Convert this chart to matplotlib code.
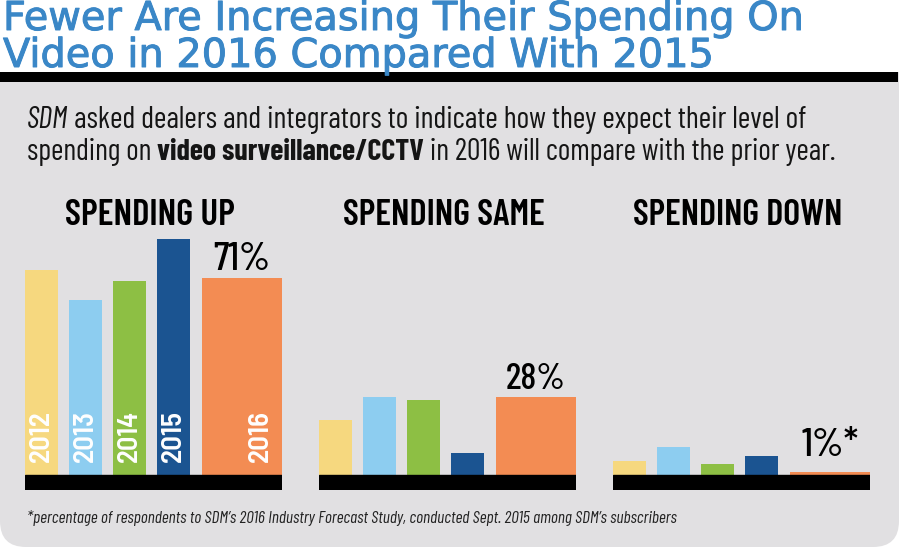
import matplotlib
matplotlib.use("Agg")
import matplotlib.pyplot as plt
import matplotlib.patheffects as pe
from matplotlib.patches import FancyBboxPatch, Rectangle

# data (% of respondents)
years = ["2012", "2013", "2014", "2015", "2016"]
spending_up = [74, 63, 70, 85, 71]
spending_same = [20, 28, 27, 8, 28]
spending_down = [5, 10, 4, 7, 1]
group_titles = ["SPENDING UP", "SPENDING SAME", "SPENDING DOWN"]
value_labels = ["71%", "28%", "1%*"]

colors = ["#f6d87f", "#8dcdf0", "#8dbf44", "#1b5491", "#f38c53"]
panel_gray = "#e1e0e2"
title_blue = "#3a87c7"

# condensed gothic look, falls back to DejaVu Sans Condensed
narrow = {"family": ["Barlow Condensed", "Roboto Condensed", "DejaVu Sans"],
          "fontstretch": "condensed"}
semi = {"family": ["Barlow Semi Condensed", "DejaVu Sans"], "fontstretch": "semi-condensed"}

W, H = 900, 550
fig = plt.figure(figsize=(W / 100, H / 100), dpi=100)
fig.patch.set_facecolor("white")
fig.canvas.draw()
r = fig.canvas.get_renderer()


def fit(t, target, along="width"):
    bb = t.get_window_extent(renderer=r)
    cur = bb.width if along == "width" else bb.height
    t.set_fontsize(t.get_fontsize() * target / cur)
    return t


# background layer in pixel coords
bg = fig.add_axes([0, 0, 1, 1], zorder=0)
bg.set_xlim(0, W)
bg.set_ylim(H, 0)
bg.axis("off")
bg.add_patch(FancyBboxPatch((0, 40), W - 1, 507, boxstyle="round,pad=0,rounding_size=26",
                            fc=panel_gray, ec="none"))
bg.add_patch(Rectangle((0, 0), W, 72, fc="white", ec="none"))
bg.add_patch(Rectangle((0, 72), W - 2, 10, fc="black", ec="none"))

thick = [pe.withStroke(linewidth=0.7, foreground=title_blue)]
t1 = bg.text(3, 30, "Fewer Are Increasing Their Spending On", color=title_blue,
             fontsize=26, family="DejaVu Sans", va="baseline", path_effects=thick)
fit(t1, 800)
bg.text(3, 67, "Video in 2016 Compared With 2015", color=title_blue,
        fontsize=t1.get_fontsize(), family="DejaVu Sans", va="baseline", path_effects=thick)


def rich_line(ax, x, y, parts, size, target):
    def draw(sz):
        xx = x
        made = []
        for s, style, weight in parts:
            t = ax.text(xx, y, s, fontsize=sz, style=style, weight=weight,
                        va="baseline", color="#151515", **narrow)
            xx += t.get_window_extent(renderer=r).width  # 1 px == 1 unit here
            made.append(t)
        return made, xx - x
    made, w = draw(size)
    for t in made:
        t.remove()
    draw(size * target / w)


rich_line(bg, 27, 128, [("SDM", "italic", "normal"),
                        (" asked dealers and integrators to indicate how they expect their level of",
                         "normal", "normal")], 16, 781)
rich_line(bg, 27, 160, [("spending on ", "normal", "normal"),
                        ("video surveillance/CCTV", "normal", "bold"),
                        (" in 2016 will compare with the prior year.", "normal", "normal")], 16, 811)

foot = bg.text(27, 523, "*percentage of respondents to SDM\u2019s 2016 Industry Forecast Study, "
               "conducted Sept. 2015 among SDM\u2019s subscribers", fontsize=10.5, style="italic",
               color="#222222", va="baseline", **narrow)
fit(foot, 650)

# bar groups
px_per_pct = 2.775
base_h = 15 / px_per_pct
lefts = [0, 1, 2, 3, 4.02]
widths = [0.75, 0.75, 0.75, 0.75, 1.82]
group_left = [25, 319, 613]
title_w = [170, 202, 210]
label_w = [57, 60, 57]
span = 257 / 44

for g, vals in enumerate([spending_up, spending_same, spending_down]):
    top_px = 475 - 100 * px_per_pct
    ax = fig.add_axes([group_left[g] / W, (H - 490) / H, 257 / W, (490 - top_px) / H], zorder=2)
    ax.set_xlim(0, span)
    ax.set_ylim(-base_h, 100)
    ax.axis("off")
    ax.bar(lefts, vals, width=widths, align="edge", color=colors)
    ax.axhspan(-base_h, 0, color="black")
    ht = ax.text(span / 2 - 0.08, 0.905, group_titles[g], transform=ax.get_xaxis_transform(),
                 ha="center", va="baseline", fontsize=21, weight="semibold", **narrow)
    fit(ht, title_w[g])
    lab_y = max(vals[-1], 3.9)
    vt = ax.annotate(value_labels[g], (lefts[-1] + widths[-1] / 2, lab_y), xytext=(0, 6),
                     textcoords="offset points", ha="center", va="baseline", fontsize=26,
                     weight="medium", **narrow)
    fit(vt, label_w[g])
    if g == 0:
        for i, yr in enumerate(years):
            xc = lefts[i] + (widths[i] / 2 if i < 4 else 1.32)
            yt = ax.text(xc, 13 / px_per_pct, yr, rotation=90, ha="center", va="bottom",
                         color="white", fontsize=20, weight="semibold", **semi)
            fit(yt, 52, along="height")

fig.savefig("out.png", dpi=100, facecolor="white")
